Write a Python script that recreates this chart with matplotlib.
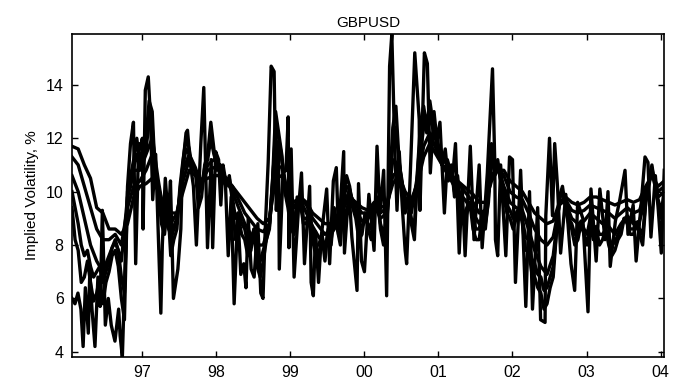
import numpy as np
import matplotlib.pyplot as plt

plt.rcParams['font.family'] = ['Liberation Sans', 'DejaVu Sans']

# monthly dates, Jan 1996 .. Jan 2004
months = 1996.05 + np.arange(97) / 12.0
# half-monthly dates
halfm = 1996.05 + np.arange(193) / 24.0

vol_12m = [11.7, 11.6, 11.0, 10.5, 9.4, 9.2, 8.6, 8.6, 8.4, 8.8, 9.8, 10.2,
           10.3, 10.5, 10.0, 9.4, 9.2, 9.2, 10.0, 10.8, 10.6, 10.4, 10.5, 10.6,
           10.6, 10.4, 10.2, 9.9, 9.6, 9.3, 9.0, 8.8, 9.0, 10.5, 10.6, 10.0,
           9.6, 9.8, 9.6, 9.2, 9.0, 8.8, 8.8, 9.1, 9.4, 9.8, 9.6, 9.4,
           9.3, 9.6, 9.4, 9.5, 10.3, 10.6, 10.0, 9.7, 10.3, 11.3, 11.8, 11.4,
           11.0, 10.8, 10.5, 10.3, 10.1, 9.9, 9.6, 9.6, 10.4, 10.8, 10.8, 10.4,
           10.2, 10.0, 9.6, 9.2, 9.0, 8.8, 8.9, 9.6, 9.8, 9.6, 9.5, 9.6,
           9.8, 9.8, 9.7, 9.6, 9.5, 9.6, 9.7, 9.6, 9.7, 10.2, 10.6, 10.2,
           10.4]

vol_6m = [11.3, 11.0, 10.2, 9.4, 8.6, 8.2, 8.2, 8.4, 8.0, 9.4, 10.2, 10.4,
          10.8, 11.4, 10.2, 9.2, 8.8, 9.2, 10.4, 11.2, 10.8, 10.4, 10.8, 10.9,
          10.8, 10.5, 10.2, 9.7, 9.2, 8.9, 8.6, 8.5, 8.8, 11.0, 10.9, 9.9,
          9.4, 9.8, 9.5, 9.0, 8.7, 8.4, 8.6, 9.0, 9.4, 9.9, 9.5, 9.2,
          9.2, 9.6, 9.2, 9.4, 10.6, 10.8, 9.8, 9.5, 10.4, 11.7, 12.2, 11.6,
          11.0, 10.7, 10.4, 10.2, 9.9, 9.6, 9.2, 9.3, 10.6, 10.9, 10.6, 10.0,
          9.8, 9.7, 9.2, 8.6, 8.2, 8.0, 8.3, 9.5, 9.7, 9.3, 9.2, 9.3,
          9.5, 9.4, 9.3, 9.2, 9.0, 9.2, 9.4, 9.2, 9.3, 10.0, 10.7, 10.0,
          10.2]

vol_3m = [10.6, 10.0, 9.0, 8.0, 7.4, 7.0, 7.6, 8.2, 7.4, 9.8, 10.8, 10.8,
          11.4, 12.0, 10.4, 9.0, 8.4, 9.0, 10.8, 11.4, 10.9, 10.2, 11.0, 11.2,
          11.0, 10.4, 10.0, 9.4, 8.8, 8.4, 8.0, 8.0, 8.8, 12.0, 11.2, 9.7,
          9.0, 9.7, 9.2, 8.7, 8.3, 8.0, 8.4, 8.8, 9.6, 10.0, 9.3, 8.9,
          9.0, 9.5, 9.0, 9.2, 11.2, 11.0, 9.6, 9.2, 10.6, 12.4, 12.8, 11.9,
          11.0, 10.6, 10.2, 9.9, 9.6, 9.2, 8.8, 9.0, 11.0, 11.0, 10.2, 9.6,
          9.4, 9.3, 8.6, 7.8, 7.2, 6.9, 7.6, 9.6, 9.6, 9.0, 8.8, 8.9,
          9.2, 9.0, 8.8, 8.7, 8.4, 8.8, 9.1, 8.8, 8.9, 9.8, 10.8, 9.8,
          10.0]

vol_2m = [10.0, 9.4, 8.8, 8.0, 7.6, 7.8, 7.2, 6.8, 7.0, 7.2, 6.6, 7.0,
          7.4, 7.9, 8.1, 7.8, 6.8, 6.2, 9.8, 10.2, 10.9, 11.4, 10.9, 11.4,
          11.6, 12.6, 12.4, 10.8, 10.2, 9.4, 8.8, 9.4, 8.2, 8.6, 8.8, 10.0,
          11.0, 11.6, 11.4, 10.9, 10.8, 9.9, 10.2, 10.9, 11.2, 12.0, 11.4, 11.0,
          11.0, 10.6, 10.3, 10.5, 9.8, 9.0, 9.2, 8.8, 8.6, 8.0, 8.2, 8.6,
          7.8, 7.4, 7.8, 8.2, 8.7, 10.2, 12.4, 12.0, 11.3, 10.2, 9.6, 9.0,
          8.7, 9.6, 9.6, 9.0, 9.0, 9.2, 8.5, 8.0, 8.0, 8.4, 7.8, 8.5,
          8.2, 9.0, 8.6, 8.4, 9.7, 10.2, 10.1, 9.6, 9.2, 8.7, 8.7, 9.0,
          8.8, 8.6, 9.4, 9.6, 8.8, 8.4, 9.0, 10.2, 11.8, 12.4, 11.1, 10.4,
          9.4, 9.7, 9.0, 8.7, 10.7, 12.2, 12.8, 12.2, 13.0, 12.4, 12.0, 11.6,
          11.0, 11.3, 10.5, 10.8, 10.0, 10.3, 9.6, 9.1, 9.4, 9.6, 8.9, 8.6,
          8.6, 9.2, 8.8, 9.6, 11.4, 10.8, 11.0, 10.4, 10.0, 9.5, 9.3, 9.0,
          9.2, 9.4, 9.0, 8.3, 8.2, 7.5, 7.3, 6.9, 6.8, 6.3, 6.4, 6.8,
          7.2, 8.4, 9.7, 10.0, 9.5, 9.0, 8.8, 8.4, 8.5, 8.9, 8.6, 8.4,
          9.0, 8.6, 8.7, 8.4, 8.4, 8.6, 8.3, 8.0, 8.1, 8.4, 8.6, 9.0,
          8.9, 8.6, 8.6, 8.8, 8.6, 8.4, 9.6, 10.2, 10.9, 10.2, 9.7, 9.3,
          9.9]

vol_1m = [9.4, 8.2, 7.8, 6.6, 6.8, 7.4, 6.6, 5.9, 6.2, 6.8, 5.8, 6.6,
          7.0, 7.6, 7.8, 7.2, 6.0, 5.2, 10.0, 10.6, 11.2, 12.0, 11.0, 11.8,
          12.0, 13.4, 13.0, 10.6, 10.0, 8.8, 8.4, 9.6, 7.6, 8.2, 8.6, 10.2,
          11.2, 12.0, 11.6, 10.8, 10.8, 9.4, 9.8, 11.0, 11.4, 12.6, 11.6, 10.8,
          11.0, 10.4, 10.2, 10.6, 9.6, 8.2, 9.0, 8.4, 8.2, 7.6, 7.8, 8.6,
          7.2, 6.8, 7.4, 8.2, 8.6, 10.4, 13.0, 12.2, 11.4, 10.0, 9.4, 8.6,
          8.4, 9.8, 9.6, 8.8, 8.8, 9.4, 8.2, 7.6, 7.6, 8.4, 7.4, 8.6,
          8.0, 9.4, 8.6, 8.0, 9.8, 10.6, 10.2, 9.4, 9.0, 8.2, 8.4, 9.2,
          8.6, 8.2, 9.4, 9.8, 8.6, 8.0, 8.8, 10.4, 12.4, 13.2, 11.2, 10.2,
          9.2, 9.8, 8.8, 8.2, 10.8, 12.6, 13.2, 12.4, 13.4, 12.6, 12.2, 11.6,
          11.0, 11.6, 10.4, 11.0, 9.8, 10.6, 9.4, 8.8, 9.2, 9.6, 8.6, 8.2,
          8.2, 9.2, 8.6, 9.8, 11.8, 10.6, 11.2, 10.4, 9.8, 9.2, 9.0, 8.6,
          9.0, 9.4, 8.8, 7.8, 7.9, 7.0, 6.8, 6.4, 6.2, 5.6, 5.8, 6.4,
          6.8, 8.4, 9.8, 10.2, 9.4, 8.8, 8.6, 8.0, 8.2, 8.8, 8.4, 8.0,
          8.8, 8.2, 8.6, 8.0, 8.2, 8.6, 8.0, 7.6, 7.8, 8.2, 8.4, 9.0,
          8.8, 8.4, 8.4, 8.8, 8.4, 8.0, 9.6, 10.4, 11.0, 10.2, 9.6, 9.0,
          9.8]

# short tenor, read point by point
t_1w = [1996.05, 1996.09, 1996.13, 1996.17, 1996.20, 1996.23, 1996.27, 1996.29,
        1996.32, 1996.36, 1996.40, 1996.43, 1996.46, 1996.50, 1996.54, 1996.58,
        1996.63, 1996.68, 1996.70, 1996.73, 1996.80, 1996.84, 1996.88, 1996.91,
        1996.95, 1996.97, 1997.00, 1997.01, 1997.04, 1997.08, 1997.11, 1997.14,
        1997.18, 1997.20, 1997.25, 1997.27, 1997.31, 1997.35, 1997.38, 1997.42,
        1997.48, 1997.52, 1997.54, 1997.59, 1997.61, 1997.65, 1997.69, 1997.73,
        1997.79, 1997.83, 1997.86, 1997.88, 1997.93, 1997.95, 1997.99, 1998.03,
        1998.06, 1998.09, 1998.12, 1998.16, 1998.20, 1998.24, 1998.29, 1998.33,
        1998.37, 1998.40, 1998.43, 1998.47, 1998.51, 1998.56, 1998.60, 1998.63,
        1998.66, 1998.70, 1998.74, 1998.78, 1998.81, 1998.84, 1998.85, 1998.90,
        1998.94, 1998.97, 1998.98, 1999.01, 1999.05, 1999.11, 1999.15, 1999.19,
        1999.26, 1999.28, 1999.31, 1999.34, 1999.38, 1999.42, 1999.49, 1999.53,
        1999.58, 1999.62, 1999.65, 1999.72, 1999.73, 1999.79, 1999.83, 1999.90,
        1999.92, 1999.96, 2000.00, 2000.06, 2000.13, 2000.17, 2000.21, 2000.26,
        2000.30, 2000.34, 2000.37, 2000.41, 2000.44, 2000.47, 2000.51, 2000.55,
        2000.57, 2000.62, 2000.68, 2000.74, 2000.75, 2000.81, 2000.85, 2000.89,
        2000.94, 2000.98, 2001.02, 2001.08, 2001.12, 2001.19, 2001.23, 2001.28,
        2001.32, 2001.36, 2001.43, 2001.48, 2001.55, 2001.59, 2001.66, 2001.73,
        2001.76, 2001.77, 2001.80, 2001.84, 2001.91, 2001.96, 2002.00, 2002.04,
        2002.11, 2002.18, 2002.23, 2002.27, 2002.34, 2002.38, 2002.44, 2002.45,
        2002.50, 2002.54, 2002.57, 2002.61, 2002.65, 2002.72, 2002.79, 2002.84,
        2002.88, 2002.95, 2003.02, 2003.06, 2003.13, 2003.18, 2003.25, 2003.29,
        2003.32, 2003.39, 2003.45, 2003.52, 2003.56, 2003.63, 2003.67, 2003.74,
        2003.79, 2003.83, 2003.87, 2003.93, 2003.97, 2004.01, 2004.05]
vol_1w = [6.0, 5.8, 6.2, 5.6, 4.2, 6.4, 4.7, 7.0,
          5.6, 4.2, 6.8, 5.7, 9.3, 5.0, 6.0, 5.0,
          4.4, 5.6, 4.6, 3.8, 10.2, 11.8, 12.6, 7.3,
          11.8, 11.6, 12.0, 8.6, 13.8, 14.3, 12.8, 9.7,
          11.4, 9.7, 5.45, 8.0, 10.5, 9.0, 10.4, 6.0,
          7.1, 8.6, 10.8, 12.2, 12.3, 11.0, 10.2, 8.0,
          11.8, 13.9, 10.2, 7.9, 11.2, 7.9, 11.5, 11.2,
          9.5, 11.0, 10.5, 7.6, 9.8, 5.8, 9.2, 6.9,
          7.3, 6.4, 9.0, 7.1, 6.8, 8.8, 6.2, 6.0,
          8.6, 11.1, 14.7, 14.5, 9.3, 11.6, 7.1, 10.7,
          10.8, 12.8, 7.9, 11.6, 6.8, 9.4, 10.7, 7.3,
          10.2, 6.6, 6.1, 8.5, 6.6, 8.4, 10.1, 7.3,
          10.4, 10.9, 8.4, 11.5, 7.7, 10.1, 8.3, 6.3,
          10.3, 7.4, 7.0, 9.9, 7.8, 11.7, 9.2, 10.8,
          6.1, 14.7, 15.9, 11.6, 9.3, 11.5, 9.5, 7.8,
          7.3, 10.7, 15.2, 12.7, 9.3, 15.2, 14.8, 10.7,
          13.0, 11.9, 12.6, 9.2, 11.2, 10.5, 11.8, 7.7,
          10.2, 7.6, 11.7, 8.2, 11.0, 7.9, 10.7, 14.6,
          11.2, 8.2, 7.6, 11.0, 7.6, 11.3, 11.2, 6.6,
          10.8, 5.7, 10.0, 5.6, 9.4, 5.2, 5.1, 9.1,
          12.0, 9.1, 11.8, 10.1, 7.7, 9.9, 7.3, 6.3,
          9.6, 9.0, 5.5, 10.1, 7.4, 10.1, 8.2, 10.0,
          7.2, 8.9, 9.7, 10.8, 8.4, 9.5, 7.4, 9.6,
          11.3, 11.1, 8.3, 10.6, 9.3, 7.7, 10.8]

year_ticks = [1997, 1998, 1999, 2000, 2001, 2002, 2003, 2004]
year_labels = ['97', '98', '99', '00', '01', '02', '03', '04']

fig = plt.figure(figsize=(6.73, 3.85), dpi=100)
ax = fig.add_axes([0.107, 0.073, 0.880, 0.839])

for v in [vol_12m, vol_6m, vol_3m]:
    ax.plot(months, v, color='black', lw=2.4)
for v in [vol_2m, vol_1m]:
    ax.plot(halfm, v, color='black', lw=2.4)
ax.plot(t_1w, vol_1w, color='black', lw=2.4)

ax.set_xlim(1996.05, 2004.05)
ax.set_ylim(3.81, 15.91)
ax.set_xticks(year_ticks)
ax.set_xticklabels(year_labels)
ax.set_yticks([4, 6, 8, 10, 12, 14])
ax.tick_params(direction='in', top=True, right=True, length=4, width=1,
               labelsize=11.5, pad=6)
for s in ax.spines.values():
    s.set_linewidth(1.2)

ax.set_title('GBPUSD', fontsize=11, pad=5)
ax.set_ylabel('Implied Volatility, %', fontsize=11, labelpad=5)

fig.savefig('out.png', dpi=100)
